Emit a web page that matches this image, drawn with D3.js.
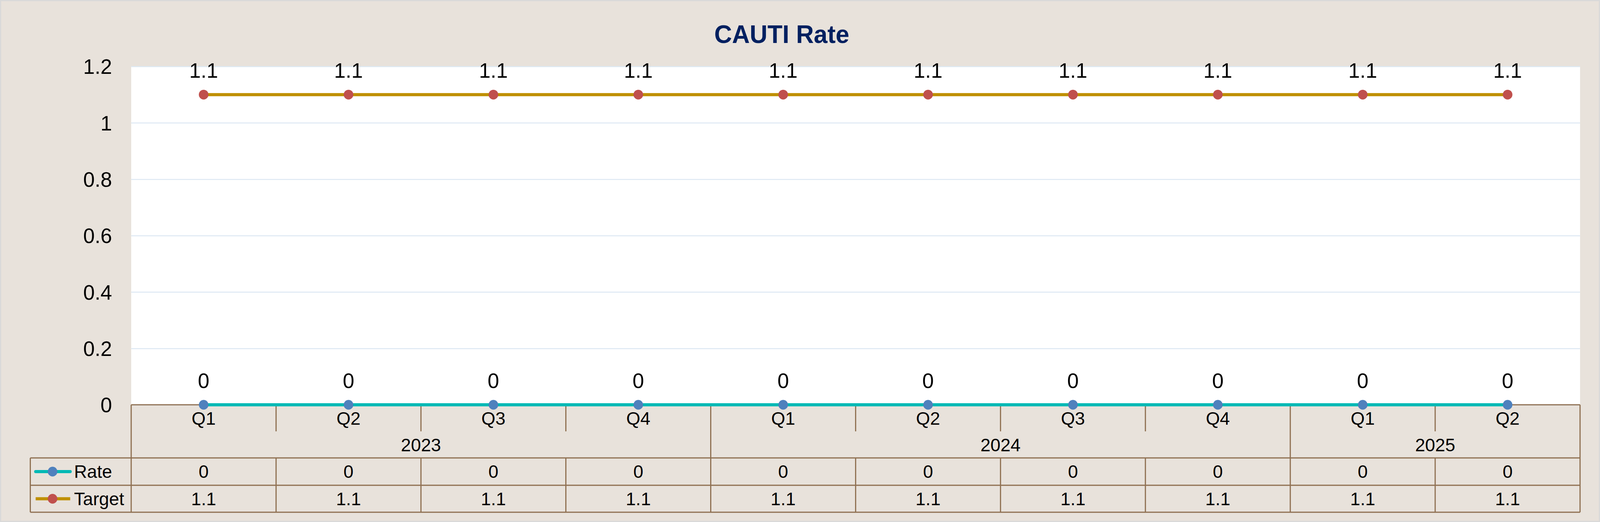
<!DOCTYPE html>
<html>
<head>
<meta charset="utf-8">
<script src="https://cdn.jsdelivr.net/npm/d3@7"></script>
<style>
  html, body { margin: 0; padding: 0; overflow: hidden; background: #E8E2DB; }
  svg { display: block; width: 100vw; height: 100vh; }
  text { font-family: "Liberation Sans", Arial, sans-serif; fill: #000; }
</style>
</head>
<body>
<svg id="chart"></svg>
<script>
// Chart data
const quarters = ["Q1", "Q2", "Q3", "Q4", "Q1", "Q2", "Q3", "Q4", "Q1", "Q2"];
const years = ["2023", "2024", "2025"];
const yearSpans = [4, 4, 2];
const rateValues = [0, 0, 0, 0, 0, 0, 0, 0, 0, 0];
const targetValues = [1.1, 1.1, 1.1, 1.1, 1.1, 1.1, 1.1, 1.1, 1.1, 1.1];
const yTicks = [0, 0.2, 0.4, 0.6, 0.8, 1, 1.2];

const svgWidth = 4171, svgHeight = 1336;
const plot = { left: 342, right: 4119, top: 170, bottom: 1036 };
const tableLeft = 79;
const qRowBottom = 1104, yearRowBottom = 1172, rateRowBottom = 1242, targetRowBottom = 1311;

const bg = "#E8E2DB", brown = "#8E6F50";

// Scale the drawing to whatever the window is
const svg = d3.select("#chart")
    .attr("viewBox", `0 0 ${svgWidth} ${svgHeight}`)
    .attr("preserveAspectRatio", "none");

// Background with grey outer border
svg.append("rect")
    .attr("x", 1.5).attr("y", 1.5)
    .attr("width", svgWidth - 3).attr("height", svgHeight - 3)
    .attr("fill", bg)
    .attr("stroke", "#D9D9D9")
    .attr("stroke-width", 3);

// Plot area
svg.append("rect")
    .attr("x", plot.left).attr("y", plot.top)
    .attr("width", plot.right - plot.left).attr("height", plot.bottom - plot.top)
    .attr("fill", "#ffffff");

// Scales
const idx = d3.range(quarters.length);
const xScale = d3.scaleBand()
    .domain(idx)
    .range([plot.left, plot.right])
    .paddingInner(0)
    .paddingOuter(0);
const bw = xScale.bandwidth();
const cx = i => xScale(i) + bw / 2;

const yScale = d3.scaleLinear()
    .domain([0, 1.2])
    .range([plot.bottom, plot.top]);

// Gridlines
svg.append("g")
    .attr("transform", `translate(${plot.left},0)`)
    .call(d3.axisLeft(yScale).tickValues(yTicks).tickSize(-(plot.right - plot.left)).tickFormat(""))
    .call(g => g.select(".domain").remove())
    .call(g => g.selectAll("line").attr("stroke", "#DDE8F3").attr("stroke-width", 2.5));

// Y axis labels
svg.append("g")
    .attr("transform", `translate(${plot.left},0)`)
    .call(d3.axisLeft(yScale).tickValues(yTicks).tickSize(0).tickPadding(50).tickFormat(d3.format("~g")))
    .call(g => g.select(".domain").remove())
    .call(g => g.selectAll("text")
        .attr("dy", "0.35em")
        .style("font-family", "'Liberation Sans', Arial, sans-serif")
        .style("font-size", "54px")
        .attr("fill", "#000"));

// Title
svg.append("text")
    .attr("x", 2038)
    .attr("y", 110)
    .attr("text-anchor", "middle")
    .style("font-size", "64px")
    .style("font-weight", "bold")
    .style("fill", "#002060")
    .text("CAUTI Rate");

// Category axis / data table grid
const grid = svg.append("g")
    .attr("stroke", brown)
    .attr("stroke-width", 3)
    .attr("fill", "none");

// axis line and table horizontal lines
grid.append("line").attr("x1", plot.left).attr("x2", plot.right).attr("y1", plot.bottom).attr("y2", plot.bottom);
[yearRowBottom, rateRowBottom, targetRowBottom].forEach(y => {
    grid.append("line").attr("x1", tableLeft).attr("x2", plot.right).attr("y1", y).attr("y2", y);
});
// left legend border
grid.append("line").attr("x1", tableLeft).attr("x2", tableLeft).attr("y1", yearRowBottom).attr("y2", targetRowBottom);

// vertical separators
const yearStarts = d3.cumsum([0].concat(yearSpans));
d3.range(quarters.length + 1).forEach(i => {
    const x = i < quarters.length ? xScale(i) : plot.right;
    const isYearEdge = yearStarts.includes(i);
    grid.append("line")
        .attr("x1", x).attr("x2", x)
        .attr("y1", plot.bottom)
        .attr("y2", isYearEdge ? targetRowBottom : qRowBottom);
    if (!isYearEdge) {
        grid.append("line")
            .attr("x1", x).attr("x2", x)
            .attr("y1", yearRowBottom).attr("y2", targetRowBottom);
    }
});

// Quarter labels
svg.append("g").selectAll("text")
    .data(quarters)
    .join("text")
    .attr("x", (d, i) => cx(i))
    .attr("y", 1087)
    .attr("text-anchor", "middle")
    .style("font-size", "47px")
    .text(d => d);

// Year labels
svg.append("g").selectAll("text")
    .data(years)
    .join("text")
    .attr("x", (d, i) => {
        const a = xScale(yearStarts[i]);
        const b = yearStarts[i + 1] < quarters.length ? xScale(yearStarts[i + 1]) : plot.right;
        return (a + b) / 2;
    })
    .attr("y", 1155)
    .attr("text-anchor", "middle")
    .style("font-size", "47px")
    .text(d => d);

// Series definitions
const series = [
    { name: "Rate", values: rateValues, line: "#00B9B5", marker: "#4F81BD", rowTop: yearRowBottom, rowBottom: rateRowBottom, cap: "round" },
    { name: "Target", values: targetValues, line: "#BF9000", marker: "#C0504D", rowTop: rateRowBottom, rowBottom: targetRowBottom, cap: "butt" }
];

const line = d3.line()
    .x((d, i) => cx(i))
    .y(d => yScale(d));

series.slice().reverse().forEach(s => {
    svg.append("path")
        .datum(s.values)
        .attr("fill", "none")
        .attr("stroke", s.line)
        .attr("stroke-width", 8)
        .attr("d", line);
});

series.forEach(s => {
    svg.append("g").selectAll("circle")
        .data(s.values)
        .join("circle")
        .attr("cx", (d, i) => cx(i))
        .attr("cy", d => yScale(d))
        .attr("r", 12.5)
        .attr("fill", s.marker);

    // data labels above points
    svg.append("g").selectAll("text")
        .data(s.values)
        .join("text")
        .attr("x", (d, i) => cx(i))
        .attr("y", d => yScale(d) - 43)
        .attr("text-anchor", "middle")
        .style("font-size", "54px")
        .text(d => d3.format("~g")(d));

    // table row values
    const rowMid = (s.rowTop + s.rowBottom) / 2;
    svg.append("g").selectAll("text")
        .data(s.values)
        .join("text")
        .attr("x", (d, i) => cx(i))
        .attr("y", rowMid)
        .attr("dy", "0.35em")
        .attr("text-anchor", "middle")
        .style("font-size", "47px")
        .text(d => d3.format("~g")(d));

    // legend key
    svg.append("line")
        .attr("x1", 93).attr("x2", 183)
        .attr("y1", rowMid).attr("y2", rowMid)
        .attr("stroke", s.line)
        .attr("stroke-width", 8)
        .attr("stroke-linecap", s.cap);
    svg.append("circle")
        .attr("cx", 137).attr("cy", rowMid)
        .attr("r", 12.5)
        .attr("fill", s.marker);
    svg.append("text")
        .attr("x", 193)
        .attr("y", rowMid)
        .attr("dy", "0.35em")
        .style("font-size", "47px")
        .text(s.name);
});
</script>
</body>
</html>
